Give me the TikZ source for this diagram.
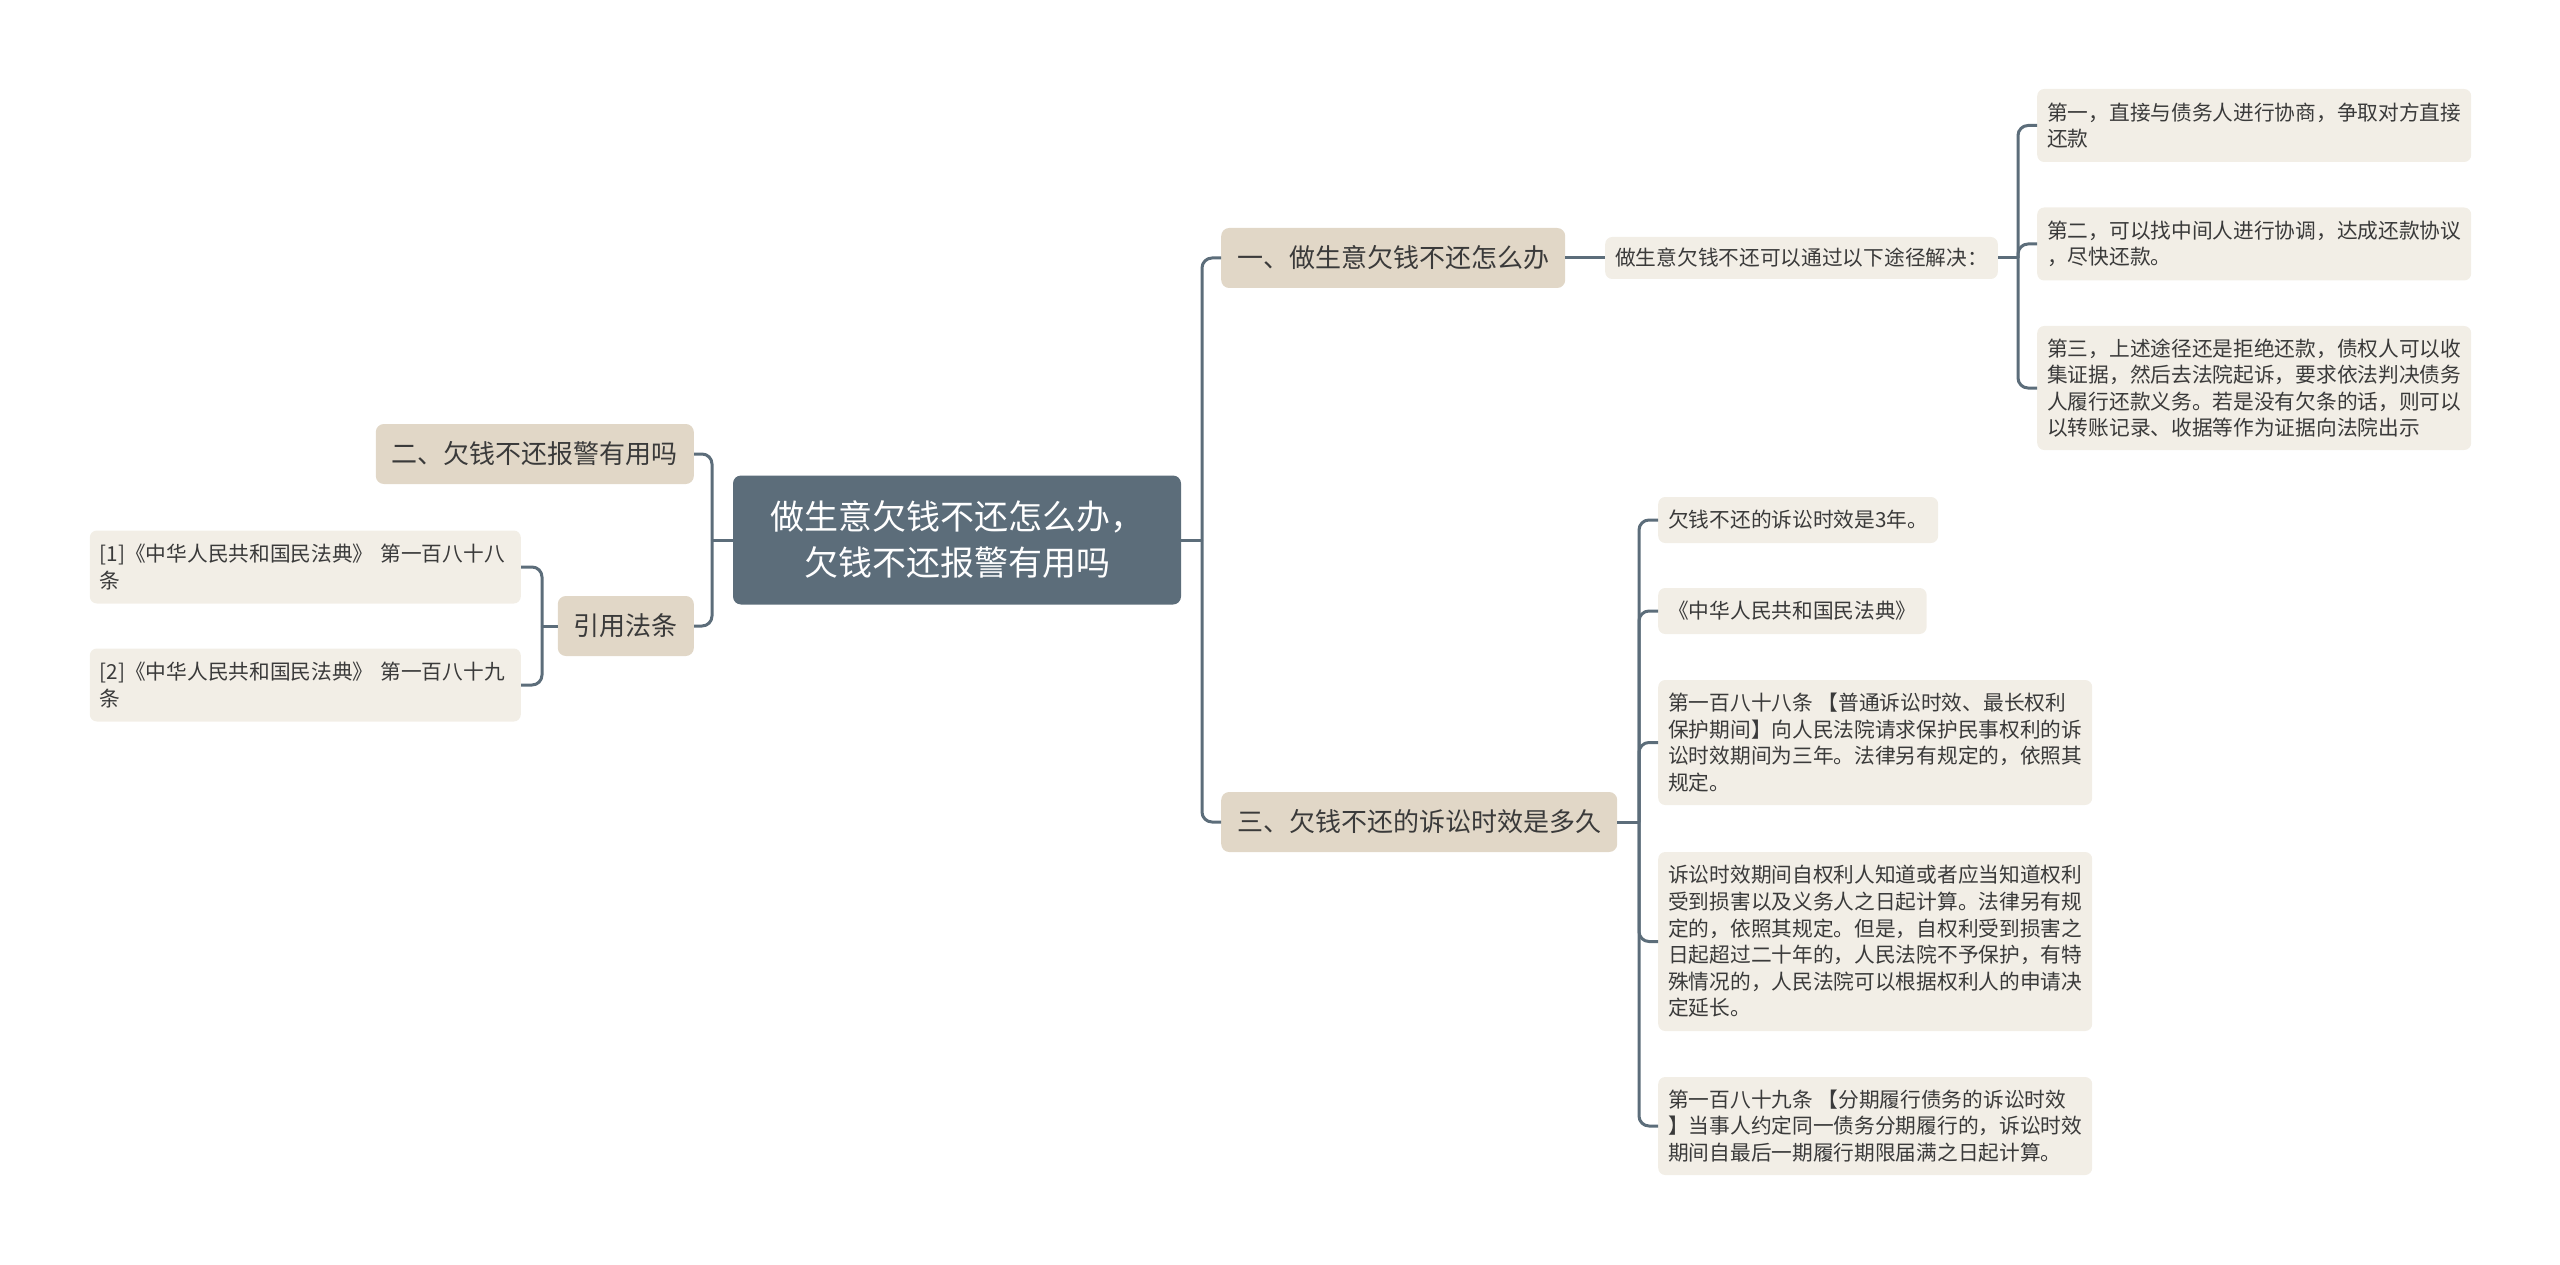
\documentclass[tikz,border=0pt]{standalone}
\usepackage{fontspec}
\setmainfont{Noto Sans CJK SC}
\usepackage{tikz}

\definecolor{slate}{HTML}{5C6D7A}
\definecolor{branchfill}{HTML}{E1D7C7}
\definecolor{leaffill}{HTML}{F2EEE6}
\definecolor{ink}{HTML}{3A3A3A}

\tikzset{
  mainbox/.style={rectangle, rounded corners=8pt, fill=slate, text=white, align=center,
    font=\fontsize{34}{46}\selectfont, minimum width=448pt, minimum height=129pt},
  topic/.style={rectangle, rounded corners=8pt, fill=branchfill, text=ink,
    font=\fontsize{26}{32}\selectfont, inner xsep=16pt, inner ysep=0pt, minimum height=60pt},
  leaf/.style={rectangle, rounded corners=7pt, fill=leaffill, text=ink, align=left,
    font=\fontsize{20.7}{26.6}\selectfont, inner xsep=10pt, inner ysep=0pt, minimum height=46pt}
}

\begin{document}
\begin{tikzpicture}[x=1pt, y=-1pt]
  \useasboundingbox (0,0) rectangle (2560,1265);

  \node [mainbox] (0) at (957,540) {做生意欠钱不还怎么办，\\欠钱不还报警有用吗};

  \begin{scope}[every node/.style={topic}]
    \node [anchor=west] (1) at (1221,258) {一、做生意欠钱不还怎么办};
    \node [anchor=east] (2) at (694,454) {二、欠钱不还报警有用吗};
    \node [anchor=west] (3) at (1221,822) {三、欠钱不还的诉讼时效是多久};
    \node [anchor=east] (4) at (694,626) {引用法条};
  \end{scope}

  \begin{scope}[every node/.style={leaf}]
    \node [anchor=west, minimum height=42pt] (5) at (1605,258) {做生意欠钱不还可以通过以下途径解决：};
    \node [anchor=west, minimum height=73pt] (6) at (2037,125.5) {第一，直接与债务人进行协商，争取对方直接\\还款};
    \node [anchor=west, minimum height=73pt] (7) at (2037,244) {第二，可以找中间人进行协调，达成还款协议\\，尽快还款。};
    \node [anchor=west, minimum height=124pt] (8) at (2037,388) {第三，上述途径还是拒绝还款，债权人可以收\\集证据，然后去法院起诉，要求依法判决债务\\人履行还款义务。若是没有欠条的话，则可以\\以转账记录、收据等作为证据向法院出示};

    \node [anchor=west] (9) at (1658,520) {欠钱不还的诉讼时效是3年。};
    \node [anchor=west] (10) at (1658,611) {《中华人民共和国民法典》};
    \node [anchor=west, minimum height=125pt] (11) at (1658,742.5) {第一百八十八条 【普通诉讼时效、最长权利\\保护期间】向人民法院请求保护民事权利的诉\\讼时效期间为三年。法律另有规定的，依照其\\规定。};
    \node [anchor=west, minimum height=179pt] (12) at (1658,941.5) {诉讼时效期间自权利人知道或者应当知道权利\\受到损害以及义务人之日起计算。法律另有规\\定的，依照其规定。但是，自权利受到损害之\\日起超过二十年的，人民法院不予保护，有特\\殊情况的，人民法院可以根据权利人的申请决\\定延长。};
    \node [anchor=west, minimum height=98pt] (13) at (1658,1126) {第一百八十九条 【分期履行债务的诉讼时效\\】当事人约定同一债务分期履行的，诉讼时效\\期间自最后一期履行期限届满之日起计算。};

    \node [anchor=east, minimum height=73pt, text width=411pt] (14) at (521,567) {[1]《中华人民共和国民法典》 第一百八十八\\条};
    \node [anchor=east, minimum height=73pt, text width=411pt] (15) at (521,685) {[2]《中华人民共和国民法典》 第一百八十九\\条};
  \end{scope}

  \coordinate (r) at (1202,540);
  \coordinate (l) at (712,540);
  \coordinate (s) at (2018,258);
  \coordinate (m) at (1639,822);
  \coordinate (c) at (542,626);

  \begin{scope}[draw=slate, line width=3pt, rounded corners=10pt]
    \draw (0.east) -- (r);
    \draw (r) |- (1.west);
    \draw (r) |- (3.west);
    \draw (0.west) -- (l);
    \draw (l) |- (2.east);
    \draw (l) |- (4.east);

    \draw (1.east) -- (5.west);
    \draw (5.east) -- (s);
    \foreach \n in {6,7,8}
      \draw (s) |- (\n.west);

    \draw (3.east) -- (m);
    \foreach \n in {9,...,13}
      \draw (m) |- (\n.west);

    \draw (4.west) -- (c);
    \draw (c) |- (14.east);
    \draw (c) |- (15.east);
  \end{scope}
\end{tikzpicture}
\end{document}
